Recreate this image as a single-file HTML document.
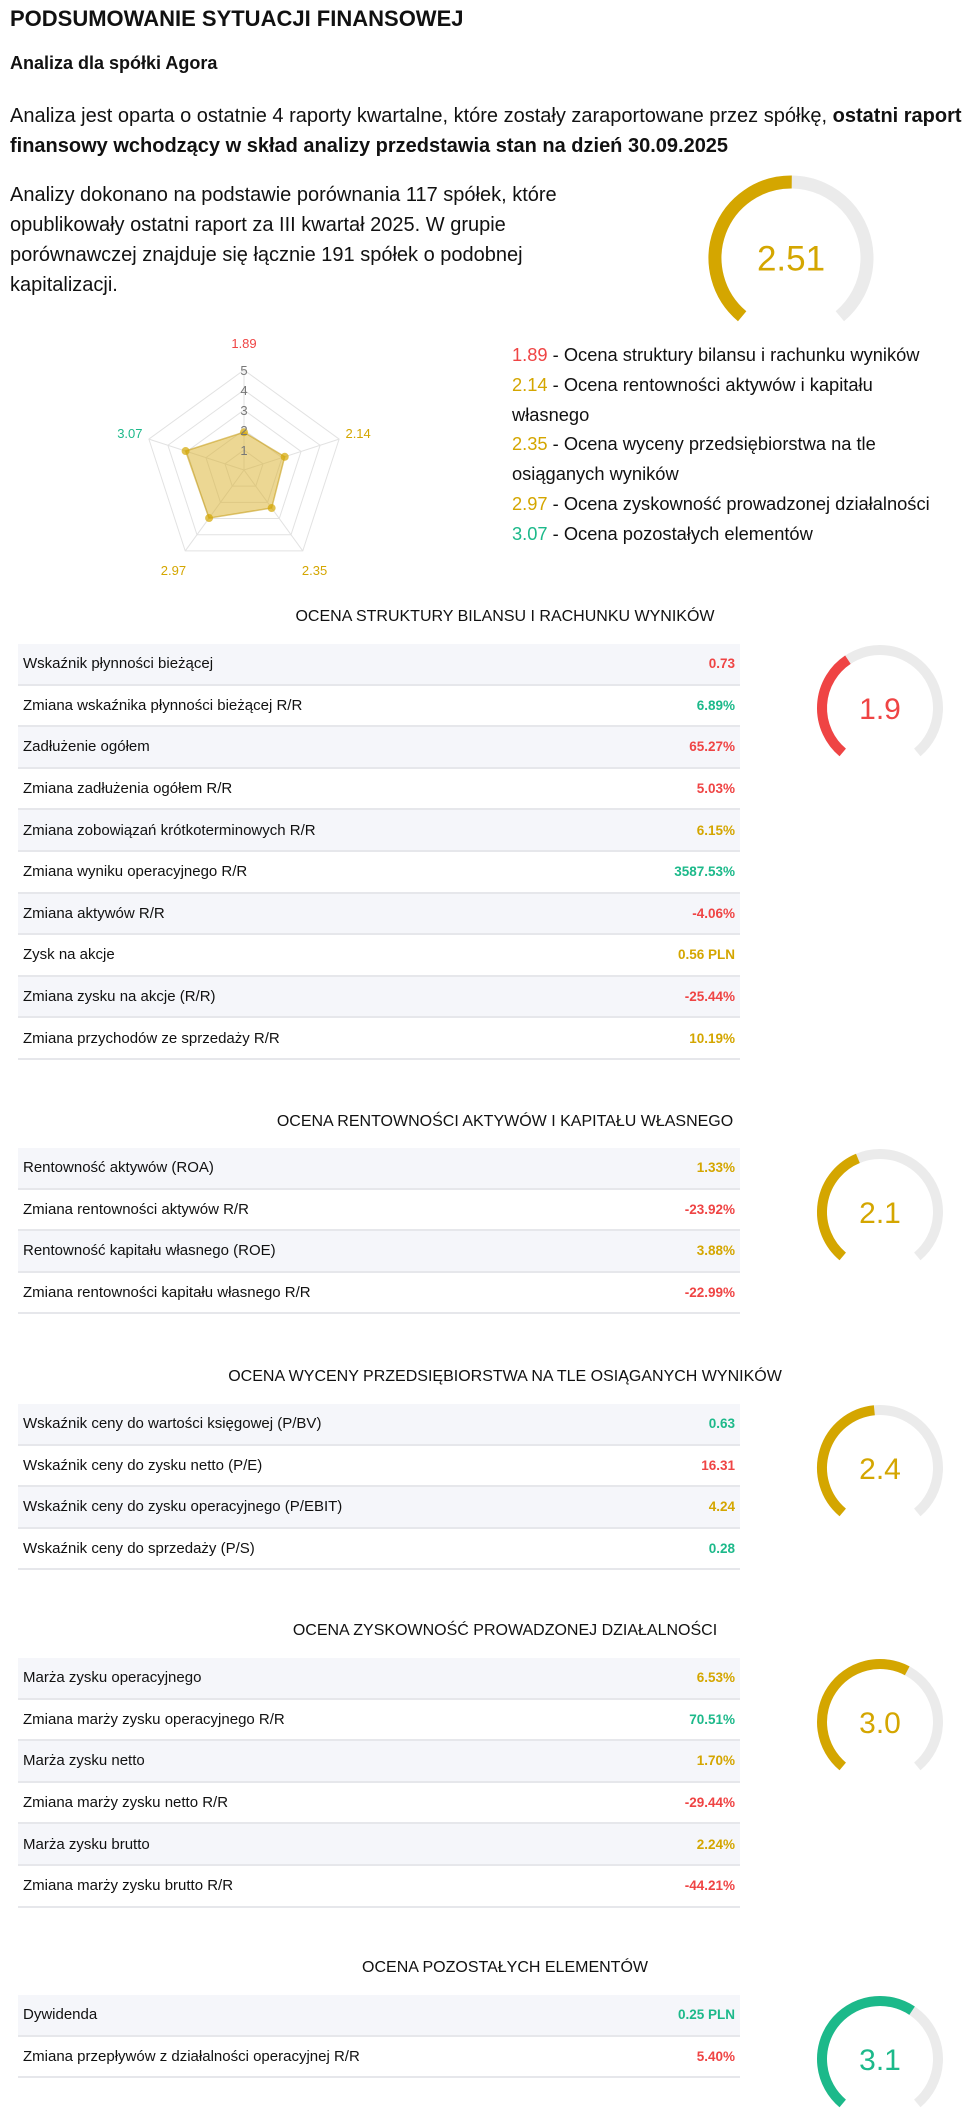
<!DOCTYPE html>
<html><head><meta charset="utf-8">
<style>
*{margin:0;padding:0;box-sizing:border-box}
body{width:964px;height:2121px;background:#fff;position:relative;font-family:"Liberation Sans",sans-serif;color:#111;overflow:hidden}
.abs{position:absolute;white-space:nowrap}
#gfx{position:absolute;left:0;top:0}
.p{font-size:20px;line-height:30px}
.lg{font-size:18.3px}
.sec-title{position:absolute;left:505px;transform:translateX(-50%);font-size:16px;white-space:nowrap}
.tbl{position:absolute;left:18px;width:722px}
.row{height:41.6px;border-bottom:2px solid #e6e7eb;display:flex;justify-content:space-between;align-items:center;padding:0 5px;font-size:15px}
.row:nth-child(odd){background:#f5f6fa}
.v{font-weight:bold;font-size:13.5px}
.r{color:#ef4444}.g{color:#d4a600}.gr{color:#1cb98a}
</style></head><body>
<svg id="gfx" width="964" height="2121"></svg>

<div class="abs" style="left:10px;top:6px;font-size:22px;font-weight:bold">PODSUMOWANIE SYTUACJI FINANSOWEJ</div>
<div class="abs" style="left:10px;top:53px;font-size:18px;font-weight:bold">Analiza dla spółki Agora</div>
<div class="abs p" style="left:10px;top:101px">Analiza jest oparta o ostatnie 4 raporty kwartalne, które zostały zaraportowane przez spółkę, <b>ostatni raport</b><br><b>finansowy wchodzący w skład analizy przedstawia stan na dzień 30.09.2025</b></div>
<div class="abs p" style="left:10px;top:180px">Analizy dokonano na podstawie porównania 117 spółek, które<br>opublikowały ostatni raport za III kwartał 2025. W grupie<br>porównawczej znajduje się łącznie 191 spółek o podobnej<br>kapitalizacji.</div>

<div class="abs lg" style="left:512px;top:340px;line-height:29.8px">
<div><span class="r">1.89</span> - Ocena struktury bilansu i rachunku wyników</div>
<div><span class="g">2.14</span> - Ocena rentowności aktywów i kapitału<br>własnego</div>
<div><span class="g">2.35</span> - Ocena wyceny przedsiębiorstwa na tle<br>osiąganych wyników</div>
<div><span class="g">2.97</span> - Ocena zyskowność prowadzonej działalności</div>
<div><span class="gr">3.07</span> - Ocena pozostałych elementów</div>
</div>

<div class="sec-title" style="top:608px">OCENA STRUKTURY BILANSU I RACHUNKU WYNIKÓW</div>
<div class="tbl" style="top:644px">
<div class="row"><span>Wskaźnik płynności bieżącej</span><span class="v r">0.73</span></div>
<div class="row"><span>Zmiana wskaźnika płynności bieżącej R/R</span><span class="v gr">6.89%</span></div>
<div class="row"><span>Zadłużenie ogółem</span><span class="v r">65.27%</span></div>
<div class="row"><span>Zmiana zadłużenia ogółem R/R</span><span class="v r">5.03%</span></div>
<div class="row"><span>Zmiana zobowiązań krótkoterminowych R/R</span><span class="v g">6.15%</span></div>
<div class="row"><span>Zmiana wyniku operacyjnego R/R</span><span class="v gr">3587.53%</span></div>
<div class="row"><span>Zmiana aktywów R/R</span><span class="v r">-4.06%</span></div>
<div class="row"><span>Zysk na akcje</span><span class="v g">0.56 PLN</span></div>
<div class="row"><span>Zmiana zysku na akcje (R/R)</span><span class="v r">-25.44%</span></div>
<div class="row"><span>Zmiana przychodów ze sprzedaży R/R</span><span class="v g">10.19%</span></div>
</div>

<div class="sec-title" style="top:1113px">OCENA RENTOWNOŚCI AKTYWÓW I KAPITAŁU WŁASNEGO</div>
<div class="tbl" style="top:1148px">
<div class="row"><span>Rentowność aktywów (ROA)</span><span class="v g">1.33%</span></div>
<div class="row"><span>Zmiana rentowności aktywów R/R</span><span class="v r">-23.92%</span></div>
<div class="row"><span>Rentowność kapitału własnego (ROE)</span><span class="v g">3.88%</span></div>
<div class="row"><span>Zmiana rentowności kapitału własnego R/R</span><span class="v r">-22.99%</span></div>
</div>

<div class="sec-title" style="top:1368px">OCENA WYCENY PRZEDSIĘBIORSTWA NA TLE OSIĄGANYCH WYNIKÓW</div>
<div class="tbl" style="top:1404px">
<div class="row"><span>Wskaźnik ceny do wartości księgowej (P/BV)</span><span class="v gr">0.63</span></div>
<div class="row"><span>Wskaźnik ceny do zysku netto (P/E)</span><span class="v r">16.31</span></div>
<div class="row"><span>Wskaźnik ceny do zysku operacyjnego (P/EBIT)</span><span class="v g">4.24</span></div>
<div class="row"><span>Wskaźnik ceny do sprzedaży (P/S)</span><span class="v gr">0.28</span></div>
</div>

<div class="sec-title" style="top:1622px">OCENA ZYSKOWNOŚĆ PROWADZONEJ DZIAŁALNOŚCI</div>
<div class="tbl" style="top:1658px">
<div class="row"><span>Marża zysku operacyjnego</span><span class="v g">6.53%</span></div>
<div class="row"><span>Zmiana marży zysku operacyjnego R/R</span><span class="v gr">70.51%</span></div>
<div class="row"><span>Marża zysku netto</span><span class="v g">1.70%</span></div>
<div class="row"><span>Zmiana marży zysku netto R/R</span><span class="v r">-29.44%</span></div>
<div class="row"><span>Marża zysku brutto</span><span class="v g">2.24%</span></div>
<div class="row"><span>Zmiana marży zysku brutto R/R</span><span class="v r">-44.21%</span></div>
</div>

<div class="sec-title" style="top:1959px">OCENA POZOSTAŁYCH ELEMENTÓW</div>
<div class="tbl" style="top:1995px">
<div class="row"><span>Dywidenda</span><span class="v gr">0.25 PLN</span></div>
<div class="row"><span>Zmiana przepływów z działalności operacyjnej R/R</span><span class="v r">5.40%</span></div>
</div>

<script>
const radarCategories = ["struktura", "rentowność", "wycena", "zyskowność", "pozostałe"];
const radarValues = [1.89, 2.14, 2.35, 2.97, 3.07];
const radarLabelColors = ["#ef4444", "#d4a600", "#d4a600", "#d4a600", "#1cb98a"];
const radarTicks = [1, 2, 3, 4, 5];
const gaugeNames = ["overall", "structure", "profitability", "valuation", "earnings", "other"];
const gaugeValues = [2.51, 1.9, 2.1, 2.4, 3.0, 3.1];
const gaugeLabels = ["2.51", "1.9", "2.1", "2.4", "3.0", "3.1"];
const gaugeColors = ["#d4a600", "#ef4444", "#d4a600", "#d4a600", "#d4a600", "#1cb98a"];

const NS = "http://www.w3.org/2000/svg";
const svg = document.getElementById("gfx");
function mk(tag, attrs, parent) {
  const e = document.createElementNS(NS, tag);
  for (const k in attrs) e.setAttribute(k, attrs[k]);
  (parent || svg).appendChild(e);
  return e;
}

const RCX = 244, RCY = 470, RR = 100, RMAX = 5;
function rScale(v) { return v / RMAX * RR; }
function rAngle(i) { return -Math.PI / 2 + i * 2 * Math.PI / radarCategories.length; }
function rPt(i, v) { const a = rAngle(i), r = rScale(v); return [RCX + r * Math.cos(a), RCY + r * Math.sin(a)]; }
radarTicks.forEach(t => {
  const pts = radarCategories.map((c, i) => rPt(i, t).join(",")).join(" ");
  const ring = mk("polygon", {points: pts, fill: "none", stroke: "#e2e2e2", "stroke-width": 1});
  
  
});
radarCategories.forEach((c, i) => {
  const p = rPt(i, RMAX);
  const ax = mk("line", {x1: RCX, y1: RCY, x2: p[0], y2: p[1], stroke: "#e2e2e2", "stroke-width": 1});
  
  
});
const poly = mk("polygon", {points: radarValues.map((v, i) => rPt(i, v).join(",")).join(" "), fill: "rgba(218,175,40,0.5)", stroke: "rgba(200,160,30,0.6)", "stroke-width": 1.5});


radarValues.forEach((v, i) => {
  const p = rPt(i, v);
  const d = mk("circle", {cx: p[0], cy: p[1], r: 4, fill: "rgba(212,166,0,0.7)"});
  
  
  const lp = rPt(i, RMAX + 1.0);
  let dy = (i === 0) ? -2 : (i === 2 || i === 3) ? 8 : 5;
  const tx = mk("text", {x: lp[0], y: lp[1] + dy, "text-anchor": "middle", "font-size": 13, fill: radarLabelColors[i], "font-family": "Liberation Sans, sans-serif"});
  tx.textContent = v.toFixed(2);
  
  
});
radarTicks.forEach(t => {
  const tx = mk("text", {x: RCX, y: RCY - rScale(t) + 5, "text-anchor": "middle", "font-size": 13, fill: "#777", "font-family": "Liberation Sans, sans-serif"});
  tx.textContent = t;
  
  
});

const gaugeGeom = [[791, 258, 76, 13, 35], [880, 708, 58, 10, 30], [880, 1212, 58, 10, 30], [880, 1468, 58, 10, 30], [880, 1722, 58, 10, 30], [880, 2059, 58, 10, 30]];
const G0 = -140, GS = 280, GMAX = 5;
function gAng(v) { return G0 + v / GMAX * GS; }
function arc(cx, cy, r, a1, a2) {
  const p = a => [cx + r * Math.sin(a * Math.PI / 180), cy - r * Math.cos(a * Math.PI / 180)];
  const s = p(a1), e = p(a2);
  return `M${s[0]},${s[1]} A${r},${r} 0 ${a2 - a1 > 180 ? 1 : 0} 1 ${e[0]},${e[1]}`;
}
gaugeValues.forEach((v, i) => {
  const [cx, cy, r, w, fs] = gaugeGeom[i];
  const bg = mk("path", {d: arc(cx, cy, r, G0, G0 + GS), fill: "none", stroke: "#ebebeb", "stroke-width": w});
  
  
  const fg = mk("path", {d: arc(cx, cy, r, G0, gAng(v)), fill: "none", stroke: gaugeColors[i], "stroke-width": w});
  
  
  const t = mk("text", {x: cx, y: cy + fs * 0.36, "text-anchor": "middle", "font-size": fs, fill: gaugeColors[i], "font-family": "Liberation Sans, sans-serif"});
  t.textContent = gaugeLabels[i];
  
  
});
</script>
</body></html>
